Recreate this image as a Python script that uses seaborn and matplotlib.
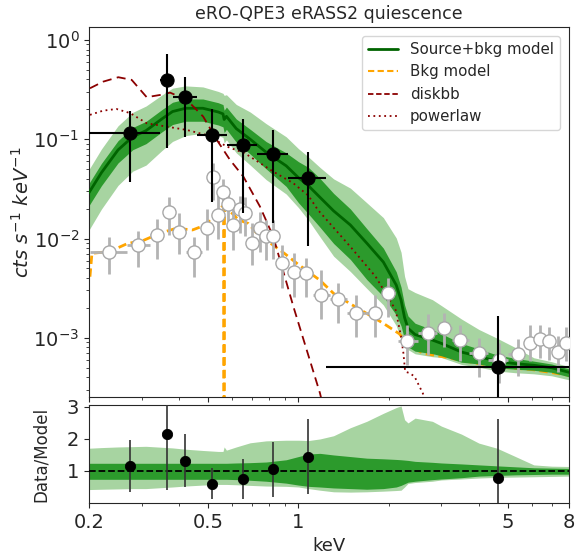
import numpy as np
import pandas as pd
import matplotlib
matplotlib.use("Agg")
import matplotlib.pyplot as plt
from matplotlib.ticker import FixedLocator, NullFormatter, LogLocator
from matplotlib.lines import Line2D
import seaborn as sns

# ---------------- source spectrum (filled points) ----------------
src_E = [0.274, 0.363, 0.418, 0.514, 0.652, 0.82, 1.08, 4.62]
src_Elo = [0.195, 0.345, 0.382, 0.458, 0.577, 0.726, 0.92, 1.24]
src_Ehi = [0.345, 0.382, 0.458, 0.577, 0.726, 0.92, 1.24, 8.0]
src_y = [0.115, 0.396, 0.269, 0.110, 0.0877, 0.0711, 0.041, 5.06e-4]
src_ylo = [0.0372, 0.0812, 0.106, 0.0235, 0.018, 0.0145, 0.00848, 1e-6]
src_yhi = [0.194, 0.718, 0.427, 0.20, 0.159, 0.124, 0.074, 1.66e-3]

# ---------------- background spectrum (open points) ----------------
bkg_E = [0.233, 0.292, 0.338, 0.369, 0.399, 0.449, 0.497, 0.520, 0.539, 0.559,
         0.581, 0.606, 0.638, 0.663, 0.702, 0.744, 0.780, 0.824, 0.883, 0.969,
         1.06, 1.187, 1.352, 1.556, 1.797, 1.99, 2.30, 2.71, 3.06, 3.46,
         3.99, 4.68, 5.40, 5.93, 6.40, 6.83, 7.33, 7.80]
bkg_Elo = [0.2015, 0.268, 0.319, 0.352, 0.385, 0.42, 0.475, 0.51, 0.53, 0.55,
           0.57, 0.595, 0.62, 0.65, 0.68, 0.72, 0.76, 0.80, 0.85, 0.92,
           1.02, 1.12, 1.27, 1.45, 1.67, 1.90, 2.15, 2.5, 2.9, 3.25,
           3.7, 4.3, 5.0, 5.65, 6.15, 6.6, 7.05, 7.55]
bkg_Ehi = [0.268, 0.319, 0.352, 0.385, 0.42, 0.475, 0.51, 0.53, 0.55, 0.57,
           0.595, 0.62, 0.65, 0.68, 0.72, 0.76, 0.80, 0.85, 0.92, 1.02,
           1.12, 1.27, 1.45, 1.67, 1.90, 2.1, 2.5, 2.9, 3.25, 3.7,
           4.3, 5.0, 5.65, 6.15, 6.6, 7.05, 7.55, 8.0]
bkg_y = [0.00738, 0.00863, 0.01087, 0.01866, 0.01157, 0.00728, 0.0129, 0.042, 0.0174, 0.0297,
         0.0221, 0.0137, 0.0197, 0.0182, 0.0091, 0.0129, 0.0106, 0.0107, 0.00564, 0.00461,
         0.00451, 0.0027, 0.00247, 0.00177, 0.00177, 0.00281, 0.00093, 0.00113, 0.00125, 0.000953,
         0.0007, 0.000599, 0.000689, 0.000895, 0.000968, 0.000937, 0.000726, 0.000895]
bkg_ylo = [0.00437, 0.00514, 0.0062, 0.0109, 0.0070, 0.00413, 0.00768, 0.0245, 0.010, 0.020,
           0.013, 0.0077, 0.0115, 0.0105, 0.00542, 0.00738, 0.00609, 0.0062, 0.00316, 0.0026,
           0.00257, 0.00154, 0.0014, 0.00103, 0.00103, 0.00163, 0.000533, 0.000673, 0.00081, 0.000581,
           0.000405, 0.00035, 0.000411, 0.000581, 0.00062, 0.0006, 0.00045, 0.00058]
bkg_yhi = [0.0103, 0.0120, 0.0156, 0.0264, 0.018, 0.0103, 0.0197, 0.0573, 0.0286, 0.040,
           0.032, 0.020, 0.027, 0.026, 0.0143, 0.0187, 0.0155, 0.0155, 0.00862, 0.00709,
           0.00631, 0.00483, 0.00356, 0.0027, 0.0027, 0.00398, 0.00135, 0.00175, 0.00178, 0.00135,
           0.000988, 0.00088, 0.00097, 0.00135, 0.00135, 0.0013, 0.00105, 0.0013]

# ---------------- source+bkg model: median and credible bands ----------------
mod_E = [0.20, 0.22, 0.25, 0.28, 0.31, 0.35, 0.38, 0.42, 0.48, 0.54,
         0.56, 0.565, 0.575, 0.62, 0.69, 0.78, 0.91, 1.00, 1.08, 1.18,
         1.31, 1.49, 1.69, 1.92, 2.12, 2.20, 2.26, 2.32, 2.45, 2.80,
         3.00, 3.50, 4.00, 4.60, 5.30, 6.10, 7.00, 8.00]
mod_med = [0.029, 0.046, 0.078, 0.106, 0.122, 0.160, 0.190, 0.205, 0.205, 0.188,
           0.180, 0.158, 0.170, 0.128, 0.100, 0.074, 0.054, 0.041, 0.034, 0.026,
           0.019, 0.0137, 0.0090, 0.0058, 0.0034, 0.0024, 0.0016, 0.00125, 0.00108, 0.00095,
           0.00088, 0.00072, 0.00065, 0.00058, 0.00055, 0.00053, 0.00050, 0.00045]
# band edges relative to the median
rat_hi2 = [1.71, 1.73, 1.75, 1.76, 1.77, 1.74, 1.72, 1.68, 1.64, 1.61,
           1.61, 1.75, 1.65, 1.75, 1.88, 1.94, 1.96, 1.96, 1.95, 2.00,
           2.10, 2.35, 2.55, 2.80, 2.98, 3.03, 2.60, 2.50, 2.65, 2.55,
           2.40, 2.15, 1.87, 1.71, 1.45, 1.19, 1.15, 1.14]
rat_lo2 = [0.42, 0.43, 0.44, 0.45, 0.45, 0.48, 0.50, 0.53, 0.56, 0.58,
           0.58, 0.58, 0.58, 0.57, 0.55, 0.53, 0.52, 0.50, 0.45, 0.40,
           0.35, 0.34, 0.35, 0.37, 0.39, 0.40, 0.50, 0.61, 0.64, 0.68,
           0.72, 0.75, 0.78, 0.80, 0.81, 0.82, 0.83, 0.84]
rat_hi1 = [1.24, 1.24, 1.24, 1.24, 1.24, 1.24, 1.24, 1.24, 1.24, 1.24,
           1.24, 1.24, 1.24, 1.25, 1.26, 1.28, 1.35, 1.45, 1.53, 1.55,
           1.50, 1.45, 1.40, 1.38, 1.36, 1.35, 1.34, 1.33, 1.30, 1.27,
           1.25, 1.22, 1.19, 1.16, 1.13, 1.10, 1.09, 1.08]
rat_lo1 = [0.74, 0.74, 0.74, 0.74, 0.74, 0.74, 0.74, 0.74, 0.74, 0.74,
           0.74, 0.74, 0.74, 0.73, 0.71, 0.68, 0.62, 0.56, 0.52, 0.50,
           0.47, 0.45, 0.43, 0.45, 0.50, 0.55, 0.60, 0.65, 0.68, 0.73,
           0.75, 0.79, 0.84, 0.86, 0.88, 0.89, 0.90, 0.90]

# ---------------- model components ----------------
bkgmod_E = [0.2015, 0.2046, 0.2343, 0.2686, 0.3043, 0.345, 0.391, 0.443, 0.49, 0.529,
            0.556, 0.5625, 0.5635, 0.5655, 0.5665, 0.585, 0.631, 0.68, 0.734, 0.81,
            0.897, 0.99, 1.18, 1.31, 1.49, 1.69, 1.92, 2.17, 2.3, 2.6,
            3.0, 4.0, 5.0, 6.0, 8.0]
bkgmod_y = [0.00413, 0.0071, 0.0074, 0.0089, 0.0096, 0.0113, 0.0127, 0.0122, 0.0137, 0.018,
            0.021, 0.021, 1e-6, 1e-6, 0.0205, 0.0195, 0.0154, 0.0142, 0.0109, 0.0089,
            0.0071, 0.0056, 0.0038, 0.0028, 0.0022, 0.00176, 0.0014, 0.0011, 0.00088, 0.0007,
            0.00065, 0.00055, 0.0005, 0.00048, 0.00042]

disk_E = [0.2015, 0.223, 0.2505, 0.2776, 0.3116, 0.345, 0.373, 0.424, 0.481, 0.534,
          0.591, 0.655, 0.744, 0.824, 0.962, 1.18, 1.3]
disk_y = [0.326, 0.38, 0.421, 0.396, 0.265, 0.279, 0.2945, 0.249, 0.169, 0.0984,
          0.0619, 0.042, 0.021, 0.01045, 0.00206, 0.000277, 0.00008]

pl_E = [0.2015, 0.223, 0.247, 0.2746, 0.3115, 0.363, 0.424, 0.495, 0.577, 0.662,
        0.824, 0.962, 1.08, 1.16, 1.27, 1.49, 1.81, 2.11, 2.20, 2.24,
        2.27, 2.35, 2.44, 2.6, 2.8]
pl_y = [0.176, 0.194, 0.2017, 0.183, 0.145, 0.134, 0.124, 0.110, 0.0843, 0.0723,
        0.0472, 0.036, 0.027, 0.0195, 0.0143, 0.00828, 0.00413, 0.00191, 0.00103, 0.000701,
        0.000457, 0.000442, 0.000408, 0.000277, 0.00015]

# ---------------- data / model ratio ----------------
rat_E = src_E
rat_y = [1.16, 2.14, 1.31, 0.58, 0.74, 1.05, 1.45, 0.79]
rat_ylo = [0.35, 0.42, 0.51, 0.11, 0.14, 0.19, 0.27, -0.3]
rat_yhi = [1.98, 3.4, 2.14, 1.08, 1.37, 1.90, 2.61, 2.63]

xtick_vals = [0.2, 0.5, 1, 5, 8]
xtick_labels = ["0.2", "0.5", "1", "5", "8"]

sns.set_style("ticks")
plt.rcParams["font.family"] = ["DejaVu Sans"]
plt.rcParams["mathtext.fontset"] = "dejavusans"

LIGHT = "#a7d4a1"
DARK = "#2c9a2c"
LINE = "#006400"
RED = "#8b0000"
ORANGE = "#ffa500"

fig = plt.figure(figsize=(5.76, 5.56), dpi=100)
ax = fig.add_axes([0.1545, 0.286, 0.8335, 0.6655])
axr = fig.add_axes([0.1545, 0.0953, 0.8335, 0.1763], sharex=ax)

E = np.array(mod_E)
med = np.array(mod_med)
ax.fill_between(E, med * np.array(rat_lo2), med * np.array(rat_hi2), color=LIGHT, lw=0, zorder=1)
ax.fill_between(E, med * np.array(rat_lo1), med * np.array(rat_hi1), color=DARK, lw=0, zorder=2)

sns.lineplot(x=bkgmod_E, y=bkgmod_y, ax=ax, color=ORANGE, linestyle=(0, (3, 1.6)), lw=2,
             estimator=None, sort=False, zorder=1.5)
sns.lineplot(x=mod_E, y=mod_med, ax=ax, color=LINE, lw=2, estimator=None, sort=False, zorder=3)
sns.lineplot(x=disk_E, y=disk_y, ax=ax, color=RED, linestyle=(0, (5, 3)), lw=1.3,
             estimator=None, sort=False, zorder=3)
sns.lineplot(x=pl_E, y=pl_y, ax=ax, color=RED, linestyle=(0, (1, 2)), lw=1.3,
             estimator=None, sort=False, zorder=3)

# background points
bE = np.array(bkg_E)
by = np.array(bkg_y)
ax.errorbar(bE, by,
            xerr=[bE - np.array(bkg_Elo), np.array(bkg_Ehi) - bE],
            yerr=[by - np.array(bkg_ylo), np.array(bkg_yhi) - by],
            fmt="none", ecolor="#b3b3b3", elinewidth=2, zorder=4)
sns.scatterplot(x=bkg_E, y=bkg_y, ax=ax, s=90, color="white", edgecolor="#a8a8a8",
                linewidth=1, zorder=5)

# source points
sE = np.array(src_E)
sy = np.array(src_y)
ax.errorbar(sE, sy,
            xerr=[sE - np.array(src_Elo), np.array(src_Ehi) - sE],
            yerr=[sy - np.array(src_ylo), np.array(src_yhi) - sy],
            fmt="none", ecolor="black", elinewidth=1.5, zorder=6)
sns.scatterplot(x=src_E, y=src_y, ax=ax, s=90, color="black", edgecolor="black", zorder=7)

ax.set_xscale("log")
ax.set_yscale("log")
ax.set_xlim(0.2, 8)
ax.set_ylim(2.54e-4, 1.35)
ax.set_ylabel(r"$cts\ s^{-1}\ keV^{-1}$", fontsize=14)
ax.yaxis.set_label_coords(-0.118, 0.5)
ax.set_xlabel("")
ax.set_title("eRO-QPE3 eRASS2 quiescence", fontsize=12.5)
ax.tick_params(axis="y", which="major", labelsize=14)
ax.tick_params(axis="x", labelbottom=False)
for side in ["top", "right"]:
    ax.spines[side].set_visible(True)

handles = [Line2D([], [], color=LINE, lw=2),
           Line2D([], [], color=ORANGE, lw=1.5, linestyle=(0, (3, 1.6))),
           Line2D([], [], color=RED, lw=1.3, linestyle=(0, (3, 1.5))),
           Line2D([], [], color=RED, lw=1.3, linestyle=(0, (1, 2)))]
ax.legend(handles, ["Source+bkg model", "Bkg model", "diskbb", "powerlaw"],
          loc="upper right", fontsize=10.8, frameon=True, borderaxespad=0.6)

# ratio panel
axr.fill_between(E, rat_lo2, rat_hi2, color=LIGHT, lw=0, zorder=1)
axr.fill_between(E, rat_lo1, rat_hi1, color=DARK, lw=0, zorder=2)
axr.axhline(1.0, color="black", linestyle="--", lw=1.3, zorder=3)
rE = np.array(rat_E)
ry = np.array(rat_y)
axr.errorbar(rE, ry, yerr=[ry - np.array(rat_ylo), np.array(rat_yhi) - ry],
             fmt="none", ecolor="#333333", elinewidth=1.2, zorder=4)
sns.scatterplot(x=rat_E, y=rat_y, ax=axr, s=55, color="black", edgecolor="black", zorder=5)
axr.set_ylim(0, 3.06)
axr.set_yticks([1, 2, 3])
axr.set_ylabel("Data/Model", fontsize=12)
axr.yaxis.set_label_coords(-0.082, 0.5)
axr.set_xlabel("keV", fontsize=13)
axr.set_xscale("log")
axr.set_xlim(0.2, 8)
axr.xaxis.set_major_locator(FixedLocator(xtick_vals))
axr.set_xticklabels(xtick_labels)
axr.xaxis.set_minor_locator(LogLocator(base=10, subs=np.arange(2, 10)))
axr.xaxis.set_minor_formatter(NullFormatter())
axr.tick_params(axis="x", which="major", labelsize=14)
axr.tick_params(axis="y", which="major", labelsize=14)
for side in ["top", "right"]:
    axr.spines[side].set_visible(True)

fig.savefig("out.png", dpi=100)
